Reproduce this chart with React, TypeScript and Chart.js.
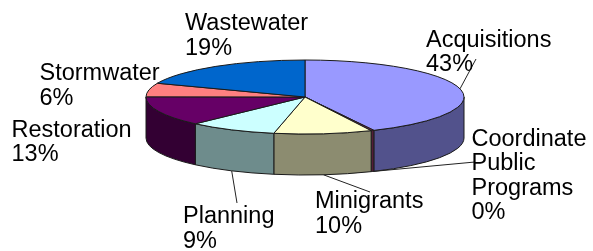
import React, { useEffect, useRef } from "react";
import { Chart, registerables } from "chart.js";

Chart.register(...registerables);

// ---- data ----
const categories = [
  "Acquisitions",
  "Coordinate Public Programs",
  "Minigrants",
  "Planning",
  "Restoration",
  "Stormwater",
  "Wastewater",
];
const values = [43, 0.3, 10, 9, 13, 6, 19];
const labelLines = [
  ["Acquisitions"],
  ["Coordinate", "Public", "Programs"],
  ["Minigrants"],
  ["Planning"],
  ["Restoration"],
  ["Stormwater"],
  ["Wastewater"],
];

// ---- styles ----
const topColors = ["#9999FF", "#993366", "#FFFFCC", "#CCFFFF", "#660066", "#FF8080", "#0066CC"];
const sideColors = ["#52528C", "#541C38", "#8C8C70", "#6E8C8C", "#330033", "#8C4646", "#003870"];
const RX = 159;
const RY = 37;
const DEPTH = 41;
const FONT = '23.5px "Liberation Sans", Arial, sans-serif';
const LINE_H = 24.5;
const labelAnchors: number[][] = [
  [426, 46.5],
  [471.5, 145.5],
  [315, 208.3],
  [183, 223.3],
  [11.5, 136.7],
  [39.5, 80],
  [185, 30],
];
const leaders: (null | [string, number, number])[] = [
  ["top", 476, 59],
  ["bottom", 475, 162],
  ["bottom", 370, 192],
  ["bottom", 237, 203],
  null,
  null,
  null,
];

const pie3d = {
  id: "pie3d",
  beforeDatasetsDraw(chart: any) {
    const ctx = chart.ctx as CanvasRenderingContext2D;
    const arcs = chart.getDatasetMeta(0).data as any[];
    if (!arcs.length) return false;
    const cx = arcs[0].x;
    const cy = arcs[0].y;
    ctx.save();
    ctx.lineWidth = 1;
    ctx.strokeStyle = "#1a1a1a";
    ctx.lineJoin = "round";
    // side walls (front half only)
    arcs.forEach((arc, i) => {
      const s = Math.max(arc.startAngle, 0);
      const e = Math.min(arc.endAngle, Math.PI);
      if (e <= s) return;
      ctx.beginPath();
      ctx.ellipse(cx, cy, RX, RY, 0, s, e);
      ctx.ellipse(cx, cy + DEPTH, RX, RY, 0, e, s, true);
      ctx.closePath();
      ctx.fillStyle = sideColors[i];
      ctx.fill();
      ctx.stroke();
    });
    // top faces
    arcs.forEach((arc, i) => {
      ctx.beginPath();
      ctx.moveTo(cx, cy);
      ctx.ellipse(cx, cy, RX, RY, 0, arc.startAngle, arc.endAngle);
      ctx.closePath();
      ctx.fillStyle = topColors[i];
      ctx.fill();
      ctx.stroke();
    });
    ctx.restore();
    return false;
  },
  afterDraw(chart: any) {
    const ctx = chart.ctx as CanvasRenderingContext2D;
    const arcs = chart.getDatasetMeta(0).data as any[];
    if (!arcs.length) return;
    const cx = arcs[0].x;
    const cy = arcs[0].y;
    const total = values.reduce((a, b) => a + b, 0);
    ctx.save();
    // leader lines
    ctx.strokeStyle = "#222";
    ctx.lineWidth = 1;
    arcs.forEach((arc, i) => {
      const ld = leaders[i];
      if (!ld) return;
      const mid = (arc.startAngle + arc.endAngle) / 2;
      const sx = cx + RX * Math.cos(mid);
      const sy = cy + RY * Math.sin(mid) + (ld[0] === "bottom" ? DEPTH : 0);
      ctx.beginPath();
      ctx.moveTo(sx, sy);
      ctx.lineTo(ld[1], ld[2]);
      ctx.stroke();
    });
    // labels
    ctx.font = FONT;
    ctx.fillStyle = "#000";
    ctx.textAlign = "left";
    ctx.textBaseline = "alphabetic";
    categories.forEach((_, i) => {
      const pct = Math.round((values[i] / total) * 100) + "%";
      const lines = [...labelLines[i], pct];
      const [x, y] = labelAnchors[i];
      lines.forEach((t, k) => ctx.fillText(t, x, y + k * LINE_H));
    });
    ctx.restore();
  },
};

export default function App() {
  const ref = useRef<HTMLCanvasElement | null>(null);
  useEffect(() => {
    if (!ref.current) return;
    const chart = new Chart(ref.current, {
      type: "pie",
      data: {
        labels: categories,
        datasets: [{ data: values, backgroundColor: topColors, borderWidth: 0 }],
      },
      options: {
        responsive: false,
        animation: false,
        events: [],
        layout: { padding: { left: 17, right: 0, top: 0, bottom: 57 } },
        plugins: { legend: { display: false }, tooltip: { enabled: false } },
      },
      plugins: [pie3d],
    } as any);
    return () => chart.destroy();
  }, []);
  return (
    <div style={{ position: "absolute", left: 0, top: 0, width: 593, height: 251, background: "#fff" }}>
      <canvas ref={ref} width={593} height={251} style={{ display: "block" }} />
    </div>
  );
}
